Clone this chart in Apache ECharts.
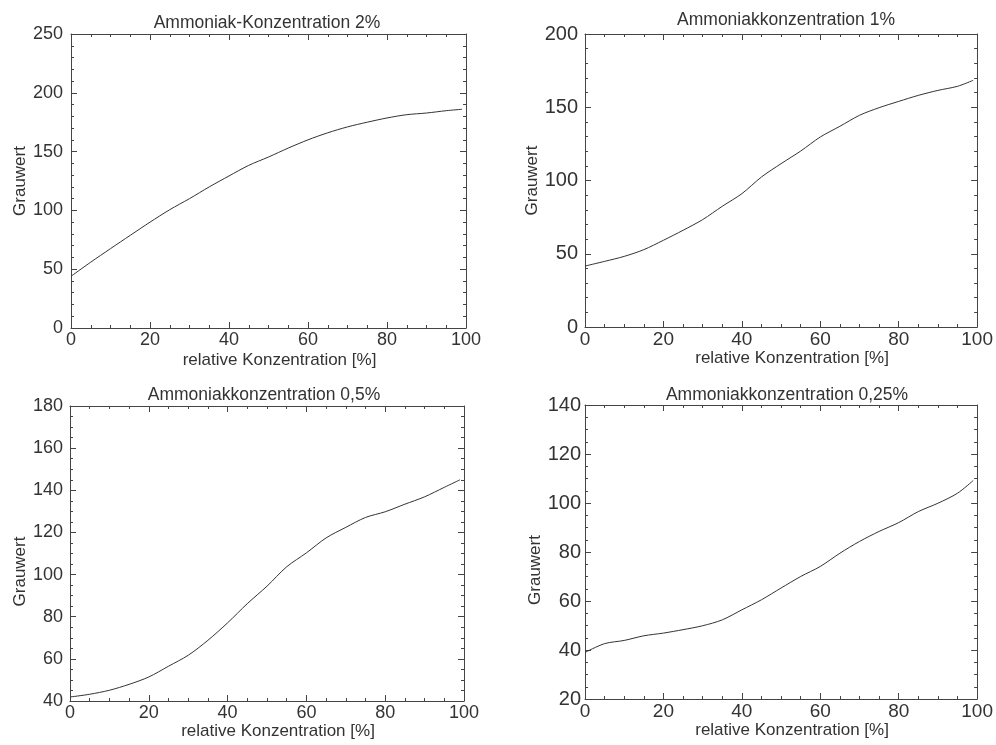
<!DOCTYPE html>
<html>
<head>
<meta charset="utf-8">
<script src="https://cdn.jsdelivr.net/npm/echarts@6/dist/echarts.min.js"></script>
<style>
html,body{margin:0;padding:0;background:#fff;}
#chart{width:996px;height:745px;}
</style>
</head>
<body>
<div id="chart"></div>
<script>
// Shared x positions (relative Konzentration [%])
const xValues = [0, 5, 10, 15, 20, 25, 30, 35, 40, 45, 50, 55, 60, 65, 70, 75, 80, 85, 90, 95, 99];

// Grauwert values per panel
const conc2 = [44, 56, 67.5, 78.8, 90, 100.6, 110, 120, 129.3, 138.3, 145.4, 153, 160, 166, 171, 175, 178.6, 181.4, 182.8, 184.8, 186];
const conc1 = [41.6, 44.8, 48.2, 52.8, 59.2, 66, 73.3, 82.4, 91, 102.4, 111.5, 120.1, 129.7, 137, 144.5, 149.7, 154, 158.1, 161.5, 164.3, 168.4];
const conc05 = [41.9, 43.2, 45.1, 47.9, 51.4, 56.5, 61.7, 68.8, 77.1, 86.2, 94.5, 103.7, 110.3, 117.4, 122.4, 127.1, 129.8, 133.4, 136.9, 141.4, 145];
const conc025 = [39, 42.6, 43.9, 45.8, 46.9, 48.3, 49.9, 52.3, 56.4, 60.5, 65.3, 70, 74.1, 79.5, 84.3, 88.4, 92, 96.5, 99.9, 104, 109.2];

const titles = ["Ammoniak-Konzentration 2%", "Ammoniakkonzentration 1%", "Ammoniakkonzentration 0,5%", "Ammoniakkonzentration 0,25%"];
const xAxisName = "relative Konzentration [%]";
const yAxisName = "Grauwert";
const yRanges = [[0, 250, 50], [0, 200, 50], [40, 180, 20], [20, 140, 20]];
const xRange = [0, 100, 20];

const FONT = "'Liberation Sans', Arial, sans-serif";

const panels = [
  {grid:{left:71, top:34, width:395, height:294}, data:conc2, yMinor:5, yFs:18, xFs:18, yMargin:8, yGap:40, yPad:[0,0,0,0], xGap:24, titleX:267, titleY:14},
  {grid:{left:585, top:34, width:394, height:293}, data:conc1, yMinor:5, yFs:20, xFs:19, yMargin:7, yGap:35, yPad:[0,0,0,0], xGap:23, titleX:786, titleY:11},
  {grid:{left:70, top:406, width:394, height:295}, data:conc05, yMinor:4, yFs:18, xFs:18, yMargin:7, yGap:40, yPad:[0,36,0,0], xGap:21, titleX:264, titleY:386},
  {grid:{left:585, top:405, width:394, height:294}, data:conc025, yMinor:4, yFs:20, xFs:19, yMargin:4, yGap:24, yPad:[0,36,0,0], xGap:18, titleX:787, titleY:386}
];

const AX = '#444';
const grids = [], xAxes = [], yAxes = [], series = [], titleArr = [];

panels.forEach((p, i) => {
  grids.push(Object.assign({containLabel:false}, p.grid));
  const tick = {show:true, inside:true, length:6, lineStyle:{color:AX, width:1}};
  const line = {show:true, onZero:false, lineStyle:{color:AX, width:1}};
  const mkMinor = n => ({show:true, splitNumber:n, length:3, lineStyle:{color:AX, width:1}});
  xAxes.push({
    type:'value', gridIndex:i, position:'bottom', min:xRange[0], max:xRange[1], interval:xRange[2],
    axisLine:line, axisTick:tick, minorTick:mkMinor(4), splitLine:{show:false},
    axisLabel:{color:'#333', fontSize:p.xFs, fontFamily:FONT, margin:3},
    name:xAxisName, nameLocation:'middle', nameGap:p.xGap,
    nameTextStyle:{color:'#333', fontSize:17, fontFamily:FONT, padding:[0,0,0,22], verticalAlign:'top'}
  });
  xAxes.push({
    type:'value', gridIndex:i, position:'top', min:xRange[0], max:xRange[1], interval:xRange[2],
    axisLine:line, axisTick:tick, minorTick:mkMinor(4), splitLine:{show:false}, axisLabel:{show:false}
  });
  const yr = yRanges[i];
  yAxes.push({
    type:'value', gridIndex:i, position:'left', min:yr[0], max:yr[1], interval:yr[2],
    axisLine:line, axisTick:tick, minorTick:mkMinor(p.yMinor), splitLine:{show:false},
    axisLabel:{color:'#333', fontSize:p.yFs, fontFamily:FONT, margin:p.yMargin},
    name:yAxisName, nameLocation:'middle', nameGap:p.yGap,
    nameTextStyle:{color:'#333', fontSize:17, fontFamily:FONT, padding:p.yPad}
  });
  yAxes.push({
    type:'value', gridIndex:i, position:'right', min:yr[0], max:yr[1], interval:yr[2],
    axisLine:line, axisTick:tick, minorTick:mkMinor(p.yMinor), splitLine:{show:false}, axisLabel:{show:false}
  });
  series.push({
    type:'line', xAxisIndex:i*2, yAxisIndex:i*2, showSymbol:false, smooth:0.3,
    lineStyle:{color:'#333', width:1}, silent:true,
    data:xValues.map((x, k) => [x, p.data[k]])
  });
  titleArr.push({
    text:titles[i], left:p.titleX, top:p.titleY, textAlign:'center', padding:0,
    textStyle:{color:'#333', fontSize:17.5, fontWeight:'normal', fontFamily:FONT}
  });
});

const chart = echarts.init(document.getElementById('chart'), null, {renderer:'canvas'});
chart.setOption({
  animation:false,
  backgroundColor:'#fff',
  title:titleArr,
  grid:grids,
  xAxis:xAxes,
  yAxis:yAxes,
  series:series
});
</script>
</body>
</html>
